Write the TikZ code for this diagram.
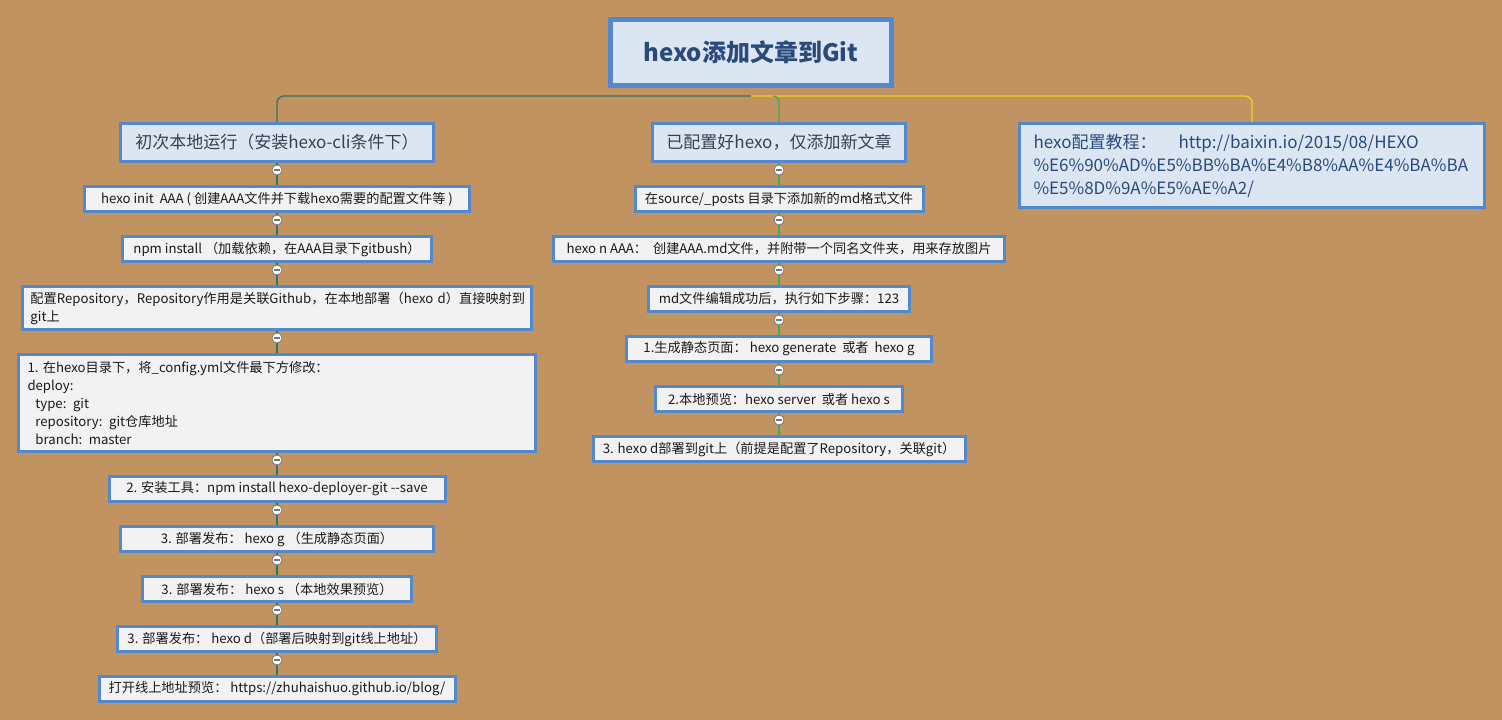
\documentclass[tikz,border=0pt]{standalone}
\usepackage{fontspec}
\setmainfont{Noto Sans CJK SC}
\usetikzlibrary{positioning, calc, backgrounds}

\definecolor{paper}{RGB}{192,147,97}
\definecolor{boxblue}{RGB}{82,136,206}
\definecolor{topicblue}{RGB}{220,230,242}
\definecolor{leafgray}{RGB}{242,242,242}
\definecolor{titletext}{RGB}{42,74,124}
\definecolor{topictext}{RGB}{52,66,86}
\definecolor{leaftext}{RGB}{26,26,26}
\definecolor{leftteal}{RGB}{42,118,104}
\definecolor{midgreen}{RGB}{62,172,82}
\definecolor{linkyellow}{RGB}{242,208,20}
\definecolor{foldgray}{RGB}{120,120,120}

\begin{document}
\begin{tikzpicture}[>=latex, x=1pt, y=-1pt, node distance=22pt,
  topic/.style={draw=boxblue, line width=3pt, fill=topicblue, text=topictext, minimum height=38pt, font=\fontsize{17}{23}\selectfont},
  leaf/.style={draw=boxblue, line width=3pt, fill=leafgray, text=leaftext, inner xsep=9pt, minimum height=25pt, font=\fontsize{13.2}{18}\selectfont},
  fold/.style={circle, draw=foldgray, line width=0.8pt, fill=white, minimum size=10pt, inner sep=0pt,
    path picture={\draw[foldgray, line width=1.2pt] ([xshift=-2.6pt]path picture bounding box.center) -- ([xshift=2.6pt]path picture bounding box.center);}},
  lline/.style={leftteal, line width=1.3pt},
  mline/.style={midgreen, line width=1.3pt},
  rline/.style={linkyellow, line width=1.3pt}]
\useasboundingbox (0,0) rectangle (1502,720);
\begin{scope}[on background layer]
\fill[paper] (0,0) rectangle (1502,720);
\end{scope}

% root
\node[draw=boxblue, line width=5pt, fill=topicblue, text=titletext, minimum width=281pt, minimum height=66pt, font=\fontsize{24}{28}\selectfont\bfseries] (root) at (751,52.5) {hexo添加文章到Git};

% main topics
\node[topic, minimum width=313pt] (l0) at (277,142.5) {初次本地运行（安装hexo-cli条件下）};
\node[topic, minimum width=253pt] (m0) at (779,142.5) {已配置好hexo，仅添加新文章};
\node[topic, minimum width=465pt, minimum height=84pt, text width=437pt, inner xsep=14pt, align=left, text=titletext] (rb) at (1252,165.5)
  {hexo配置教程：\hspace{1.3em}http://baixin.io/2015/08/HEXO\\\%E6\%90\%AD\%E5\%BB\%BA\%E4\%B8\%AA\%E4\%BA\%BA\\\%E5\%8D\%9A\%E5\%AE\%A2/};

% first run
\node[leaf, minimum width=385pt, below=of l0] (l1) {hexo init\ \ AAA ( 创建AAA文件并下载hexo需要的配置文件等 )};
\node[leaf, minimum width=309pt, below=of l1] (l2) {npm install\ （加载依赖，在AAA目录下gitbush）};
\node[leaf, minimum width=509pt, minimum height=43pt, text width=493pt, inner xsep=8pt, align=left, below=of l2] (l3)
  {配置Repository，Repository作用是关联Github，在本地部署（hexo~d）直接映射到\\git上};
\node[leaf, minimum width=517pt, minimum height=97pt, text width=499pt, align=left, below=of l3] (l4)
  {1.\ 在hexo目录下，将\_config.yml文件最下方修改：\\deploy:\\\hspace*{0.6em}type: git\\\hspace*{0.6em}repository: git仓库地址\\\hspace*{0.6em}branch: master};
\node[leaf, minimum width=336pt, below=of l4] (l5) {2. 安装工具：npm install hexo-deployer-git -{}-save};
\node[leaf, minimum width=313pt, below=of l5] (l6) {3. 部署发布：\ hexo g\ （生成静态页面）};
\node[leaf, minimum width=269pt, below=of l6] (l7) {3. 部署发布：\ hexo s\ （本地效果预览）};
\node[leaf, minimum width=319pt, below=of l7] (l8) {3. 部署发布：\ hexo d（部署后映射到git线上地址）};
\node[leaf, minimum width=356pt, below=of l8] (l9) {打开线上地址预览：\ https://zhuhaishuo.github.io/blog/};

% new post only
\node[leaf, minimum width=288pt, below=of m0] (m1) {在source/\_posts 目录下添加新的md格式文件};
\node[leaf, minimum width=451pt, below=of m1] (m2) {hexo n AAA：\ \ 创建AAA.md文件，并附带一个同名文件夹，用来存放图片};
\node[leaf, minimum width=261pt, below=of m2] (m3) {md文件编辑成功后，执行如下步骤：123};
\node[leaf, minimum width=305pt, below=of m3] (m4) {1.生成静态页面：\ hexo generate\ \ 或者\ \ hexo g};
\node[leaf, minimum width=247pt, below=of m4] (m5) {2.本地预览：hexo server\ \ 或者 hexo s};
\node[leaf, minimum width=372pt, below=of m5] (m6) {3. hexo d部署到git上（前提是配置了Repository，关联git）};

% branches
\coordinate (hub) at ([yshift=-8pt]root.south);
\coordinate (midfork) at ([xshift=22pt]hub);
\begin{scope}[on background layer]
\draw[rline, rounded corners=7pt] (hub) -| (rb.north);
\draw[lline, rounded corners=7pt] (hub) -| (l0.north);
\draw[mline, rounded corners=6pt] (midfork) -| (m0.north);
\foreach \a/\b in {l0/l1, l1/l2, l2/l3, l3/l4, l4/l5, l5/l6, l6/l7, l7/l8, l8/l9} {
  \draw[lline] (\a.south) -- (\b.north);
  \node[fold] at ([yshift=-7pt]\a.south) {};
}
\foreach \a/\b in {m0/m1, m1/m2, m2/m3, m3/m4, m4/m5, m5/m6} {
  \draw[mline] (\a.south) -- (\b.north);
  \node[fold] at ([yshift=-7pt]\a.south) {};
}
\end{scope}
\end{tikzpicture}
\end{document}
